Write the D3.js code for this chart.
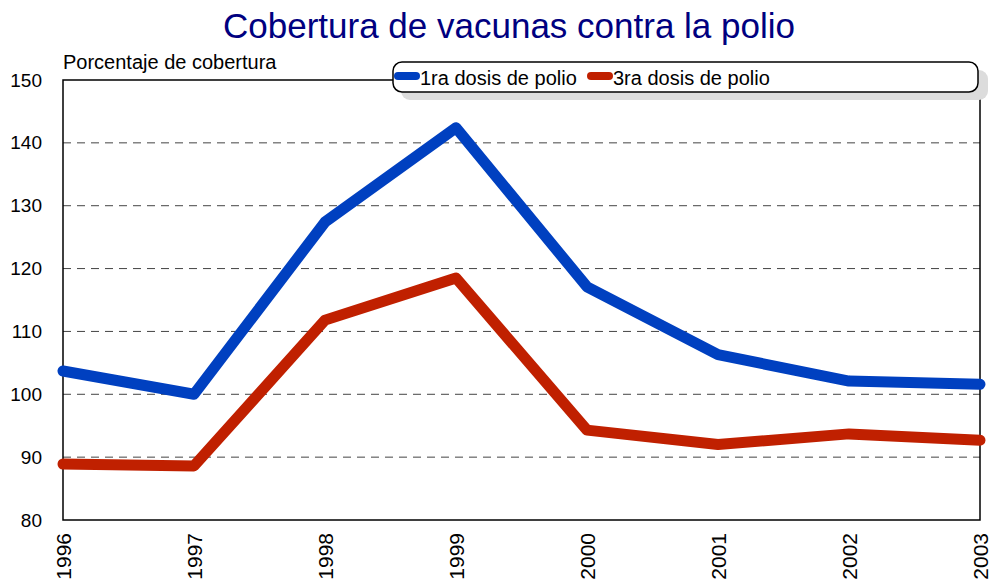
<!DOCTYPE html>
<html>
<head>
<meta charset="utf-8">
<script src="https://cdn.jsdelivr.net/npm/d3@7/dist/d3.min.js"></script>
<style>
  body { margin: 0; background: #fff; }
  svg { display: block; font-family: "Liberation Sans", Arial, sans-serif; }
</style>
</head>
<body>
<svg id="chart" width="990" height="581"></svg>
<script>
const years = ["1996", "1997", "1998", "1999", "2000", "2001", "2002", "2003"];
const primeraDosis = [103.7, 100.0, 127.4, 142.4, 117.1, 106.3, 102.1, 101.6];
const terceraDosis = [88.9, 88.6, 111.8, 118.5, 94.3, 92.0, 93.7, 92.7];
const yTicks = [80, 90, 100, 110, 120, 130, 140, 150];
const seriesNames = ["1ra dosis de polio", "3ra dosis de polio"];
const seriesColors = ["#0040c0", "#c02000"];

const svg = d3.select("#chart");
const m = { left: 63, right: 980, top: 80, bottom: 520 };

const x = d3.scalePoint().domain(years).range([m.left, m.right]);
const y = d3.scaleLinear().domain([80, 150]).range([m.bottom, m.top]);

// title
svg.append("text")
  .attr("x", 509).attr("y", 38)
  .attr("text-anchor", "middle")
  .attr("font-size", 35)
  .attr("fill", "#000080")
  .text("Cobertura de vacunas contra la polio");

// axis title
svg.append("text")
  .attr("x", 63).attr("y", 69)
  .attr("font-size", 20)
  .attr("fill", "#000")
  .text("Porcentaje de cobertura");

// dashed gridlines
svg.append("g")
  .selectAll("line")
  .data(yTicks.filter(t => t > 80 && t < 150))
  .join("line")
  .attr("x1", m.left).attr("x2", m.right)
  .attr("y1", d => y(d)).attr("y2", d => y(d))
  .attr("stroke", "#444")
  .attr("stroke-width", 1)
  .attr("stroke-dasharray", "8,6");

// plot frame
svg.append("rect")
  .attr("x", m.left).attr("y", m.top)
  .attr("width", m.right - m.left).attr("height", m.bottom - m.top)
  .attr("fill", "none").attr("stroke", "#000").attr("stroke-width", 1.5);

// y axis labels
const yAxis = d3.axisLeft(y).tickValues(yTicks).tickSize(0).tickPadding(21);
const gy = svg.append("g").attr("transform", `translate(${m.left},0)`).call(yAxis);
gy.select(".domain").remove();
gy.selectAll("text").attr("font-size", 19).attr("fill", "#000")
  .attr("font-family", "'Liberation Sans', Arial, sans-serif");

// x axis labels, rotated
const xAxis = d3.axisBottom(x).tickSize(0).tickPadding(0);
const gx = svg.append("g").attr("transform", `translate(0,${m.bottom})`).call(xAxis);
gx.select(".domain").remove();
gx.selectAll("text")
  .attr("font-size", 21).attr("fill", "#000")
  .attr("font-family", "'Liberation Sans', Arial, sans-serif")
  .attr("transform", "rotate(-90)")
  .attr("text-anchor", "end")
  .attr("x", -13).attr("y", 0).attr("dy", "0.36em");

// series lines
const line = d3.line().x((d, i) => x(years[i])).y(d => y(d));
[primeraDosis, terceraDosis].forEach((vals, k) => {
  svg.append("path")
    .datum(vals)
    .attr("d", line)
    .attr("fill", "none")
    .attr("stroke", seriesColors[k])
    .attr("stroke-width", 11)
    .attr("stroke-linejoin", "round")
    .attr("stroke-linecap", "round");
});

// legend
const lg = svg.append("g");
lg.append("rect")
  .attr("x", 401).attr("y", 70).attr("width", 587).attr("height", 30)
  .attr("rx", 9).attr("fill", "#dcdcdc");
lg.append("rect")
  .attr("x", 393).attr("y", 62).attr("width", 585).attr("height", 30)
  .attr("rx", 9).attr("fill", "#fff").attr("stroke", "#000").attr("stroke-width", 1.5);
const legendX = [398, 591];
seriesNames.forEach((name, k) => {
  lg.append("line")
    .attr("x1", legendX[k]).attr("x2", legendX[k] + 18)
    .attr("y1", 76).attr("y2", 76)
    .attr("stroke", seriesColors[k]).attr("stroke-width", 8)
    .attr("stroke-linecap", "round");
  lg.append("text")
    .attr("x", legendX[k] + 22).attr("y", 85)
    .attr("font-size", 20).attr("fill", "#000")
    .text(name);
});
</script>
</body>
</html>
